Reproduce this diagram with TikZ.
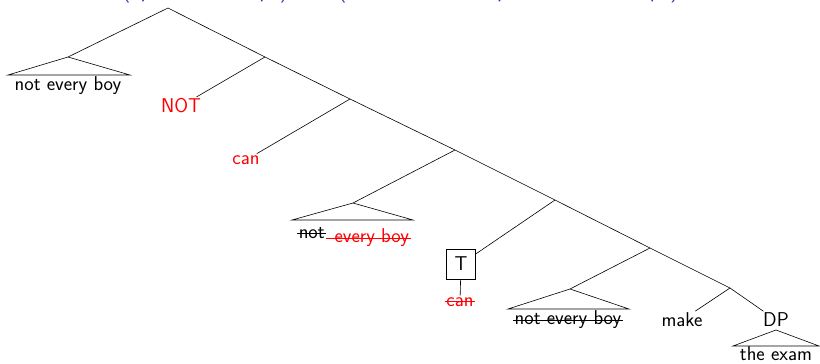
\documentclass[tikz,border=0pt]{standalone}
\usepackage{amsmath,amssymb,tikz}
\usetikzlibrary{positioning}
\definecolor{struct}{rgb}{0.2,0.2,0.7}

\begin{document}
\begin{tikzpicture}[x=1pt, y={(0pt,-1pt)}, line width=0.6pt,
    word/.style={font=\sffamily\fontsize{20}{24}\selectfont, inner sep=1.5pt},
    gloss/.style={font=\sffamily\fontsize{22}{26}\selectfont, text=struct, anchor=base west, inner sep=0pt}]
  \useasboundingbox (0,0) rectangle (820,364);
  % scope orderings (cut off at the top)
  \node[gloss] (ordA) at (122,-2) {(operator $>$ scope)};
  \node[gloss] (ordB) at (338,-2) {(not $>$ modal $>$ operator $>$ the scope)};
  % spine
  \coordinate (r0) at (168,8);
  \coordinate (r1) at (265,57);
  \coordinate (r2) at (350,99);
  \coordinate (r3) at (455,150);
  \coordinate (r4) at (555,200);
  \coordinate (r5) at (650,248);
  \coordinate (r6) at (730,288);
  % leaves
  \coordinate (t1) at (68,57);
  \node[word] (nb1) at (68,86) {not every boy};
  \node[word, text=red] (neg) at (181,106) {NOT};
  \node[word, text=red] (can1) at (246,160) {can};
  \coordinate (t2) at (353,203);
  \node[word, anchor=base west] (nb2a) at (297,238) {not};
  \node[word, text=red, anchor=base west, right=0pt of nb2a.base east] (nb2b) {\ every boy};
  \node[word, draw, minimum width=29pt, minimum height=30pt] (tbox) at (461,264) {T};
  \node[word, text=red] (can2) at (460,302) {can};
  \coordinate (t3) at (570,289);
  \node[word] (nb3) at (568,320) {not every boy};
  \node[word] (make) at (682,320) {make};
  \node[word] (dp) at (776,320) {DP};
  \coordinate (t4) at (776,330);
  \node[word] (exam) at (776,354) {the exam};
  % branches
  \draw (r0) -- (t1);
  \draw (r0) -- (r1) -- (r2) -- (r3) -- (r4) -- (r5) -- (r6) -- (dp);
  \draw (r1) -- (neg);
  \draw (r2) -- (can1);
  \draw (r3) -- (t2);
  \draw (r4) -- (tbox);
  \draw (tbox) -- (can2);
  \draw (r5) -- (t3);
  \draw (r6) -- (make);
  % triangles
  \draw (t1) -- (8,75) -- (130,75) -- cycle;
  \draw (t2) -- (292,220) -- (413,220) -- cycle;
  \draw (t3) -- (508,309) -- (629,309) -- cycle;
  \draw (t4) -- (733,346) -- (819,346) -- cycle;
  % struck-out copies
  \draw ([yshift=5pt]nb2a.base west) -- ([yshift=5pt]nb2a.base east);
  \draw[red] ([yshift=5pt]nb2b.base west) -- ([yshift=5pt]nb2b.base east);
  \draw[red] ([yshift=5pt]can2.base west) -- ([yshift=5pt]can2.base east);
  \draw ([yshift=5pt]nb3.base west) -- ([yshift=5pt]nb3.base east);
\end{tikzpicture}
\end{document}
